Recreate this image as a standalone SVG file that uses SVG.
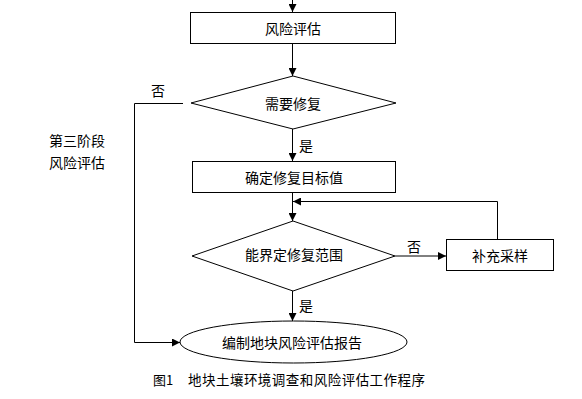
<svg xmlns="http://www.w3.org/2000/svg" width="582" height="399" viewBox="0 0 582 399">
<style>
.s{fill:#fff;stroke:#000;stroke-width:1}
.c{fill:none;stroke:#000;stroke-width:1}
text{font-family:"Noto Sans CJK SC","Liberation Sans",sans-serif;font-size:14px;fill:#000}
.m{text-anchor:middle;dominant-baseline:central}
</style>
<defs>
<marker id="a" markerWidth="8" markerHeight="8" refX="8" refY="4" orient="auto" markerUnits="userSpaceOnUse">
<path d="M0,0 L8,4 L0,8 Z" fill="#000"/>
</marker>
</defs>
<rect width="582" height="399" fill="#fff"/>
<g id="connectors">
<path class="c" d="M292.5,0 V12" marker-end="url(#a)"/>
<path class="c" d="M292.5,43 V76" marker-end="url(#a)"/>
<path class="c" d="M292.5,129 V161" marker-end="url(#a)"/>
<path class="c" d="M292.5,192 V221" marker-end="url(#a)"/>
<path class="c" d="M292.5,291 V321" marker-end="url(#a)"/>
<path class="c" d="M395,256 H446" marker-end="url(#a)"/>
<path class="c" d="M497.5,239 V201.5 H293" marker-end="url(#a)"/>
<path class="c" d="M183,103.5 H134.5 V342.5 H180" marker-end="url(#a)"/>
<text x="158" y="90" class="m">否</text>
<text x="306" y="145" class="m">是</text>
<text x="414" y="246" class="m">否</text>
<text x="306" y="305" class="m">是</text>
</g>
<g id="n1">
<rect class="s" x="190.5" y="12.5" width="205" height="31"/>
<text x="293" y="28" class="m">风险评估</text>
</g>
<g id="n2">
<path class="s" d="M191,103 L293,76 L396,103 L293,129 Z"/>
<text x="293" y="103" class="m">需要修复</text>
</g>
<g id="n3">
<rect class="s" x="192.5" y="161.5" width="203" height="31"/>
<text x="294" y="177" class="m">确定修复目标值</text>
</g>
<g id="n4">
<path class="s" d="M192,256 L293,221 L395,256 L293,291 Z"/>
<text x="294" y="254" class="m">能界定修复范围</text>
</g>
<g id="n5">
<rect class="s" x="446.5" y="239.5" width="107" height="31"/>
<text x="500" y="255" class="m">补充采样</text>
</g>
<g id="n6">
<ellipse class="s" cx="293.5" cy="342" rx="113.5" ry="21"/>
<text x="292" y="342" class="m">编制地块风险评估报告</text>
</g>
<g id="label">
<text x="77" y="140" class="m">第三阶段</text>
<text x="77" y="162" class="m">风险评估</text>
</g>
<g id="caption">
<text x="153" y="385" style="font-size:13px">图1</text>
<text x="188" y="385" style="font-size:13.5px" textLength="237">地块土壤环境调查和风险评估工作程序</text>
</g>
</svg>
